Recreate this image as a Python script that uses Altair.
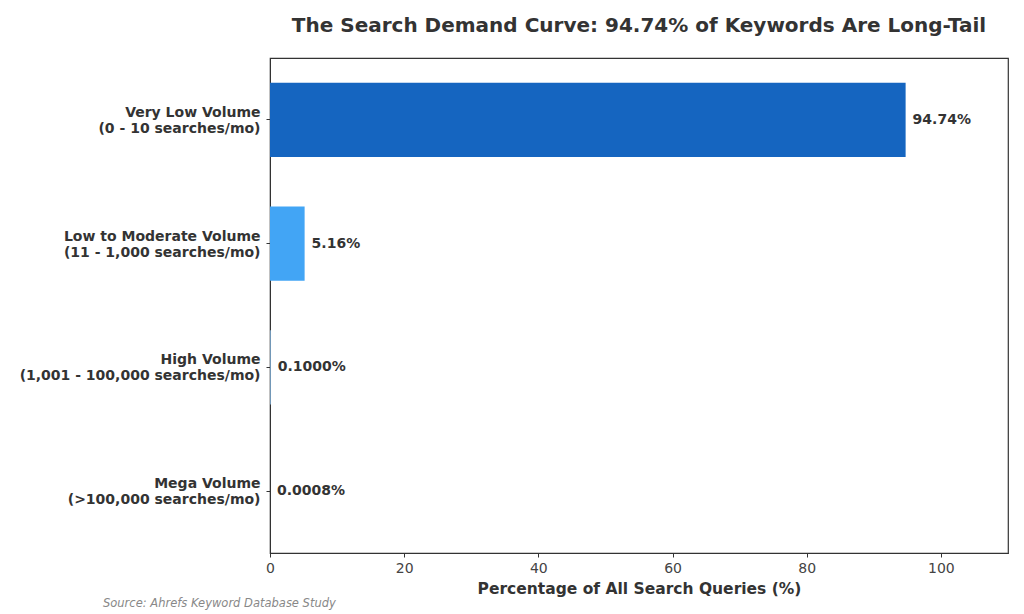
import altair as alt
import pandas as pd

CATEGORIES = [
    "Very Low Volume|(0 - 10 searches/mo)",
    "Low to Moderate Volume|(11 - 1,000 searches/mo)",
    "High Volume|(1,001 - 100,000 searches/mo)",
    "Mega Volume|(>100,000 searches/mo)",
]
SHARES = [94.74, 5.16, 0.1, 0.0008]
VALUE_LABELS = ["94.74%", "5.16%", "0.1000%", "0.0008%"]
BAR_COLORS = ["#1565C0", "#42A5F5", "#90CAF9", "#BBDEFB"]

TITLE = "The Search Demand Curve: 94.74% of Keywords Are Long-Tail"
SOURCE = "Source: Ahrefs Keyword Database Study"
FONT = "DejaVu Sans"

df = pd.DataFrame({
    "category": CATEGORIES,
    "share": SHARES,
    "label": VALUE_LABELS,
    "color": BAR_COLORS,
})

W, H = 738, 495

y_enc = alt.Y(
    "category:N",
    sort=CATEGORIES,
    scale=alt.Scale(paddingInner=0.4, paddingOuter=0.2),
    axis=alt.Axis(
        title=None,
        labelExpr="split(datum.label, '|')",
        labelFont=FONT,
        labelFontWeight="bold",
        labelFontSize=14,
        labelColor="#333333",
        labelLineHeight=16,
        labelOffset=-7,
        labelPadding=6,
        tickSize=4,
        tickColor="#333333",
        domainColor="#333333",
        labelLimit=400,
    ),
)

bars = (
    alt.Chart(df)
    .mark_bar()
    .encode(
        x=alt.X(
            "share:Q",
            scale=alt.Scale(domain=[0, 110], nice=False),
            axis=alt.Axis(
                title="Percentage of All Search Queries (%)",
                values=[0, 20, 40, 60, 80, 100],
                grid=False,
                labelFlush=False,
                labelFont=FONT,
                labelFontSize=14,
                labelColor="#444444",
                labelPadding=4,
                tickSize=4,
                tickColor="#333333",
                domainColor="#333333",
                titleFont=FONT,
                titleFontSize=15.5,
                titleFontWeight="bold",
                titleColor="#333333",
                titlePadding=6,
            ),
        ),
        y=y_enc,
        color=alt.Color("color:N", scale=None),
    )
)

texts = (
    alt.Chart(df)
    .mark_text(align="left", baseline="middle", dx=7, font=FONT,
               fontSize=14, fontWeight="bold", color="#333333")
    .encode(x="share:Q", y=alt.Y("category:N", sort=CATEGORIES), text="label:N")
)

source = (
    alt.Chart(pd.DataFrame({"t": [SOURCE]}))
    .mark_text(align="left", baseline="middle", font=FONT, fontSize=11.5,
               fontStyle="italic", color="#888888")
    .encode(x=alt.value(-167), y=alt.value(H + 51), text="t:N")
)

chart = (
    alt.layer(bars, texts, source)
    .properties(
        width=W,
        height=H,
        autosize=alt.AutoSizeParams(type="none"),
        padding={"left": 262, "top": 50, "right": 8, "bottom": 62},
        title=alt.TitleParams(
            TITLE, font=FONT, fontSize=20, fontWeight="bold",
            color="#333333", anchor="middle", offset=22,
        ),
    )
    .configure_view(stroke="#333333", strokeWidth=1.2)
)

chart.save("out.html", embed_options={"renderer": "svg", "actions": False})
